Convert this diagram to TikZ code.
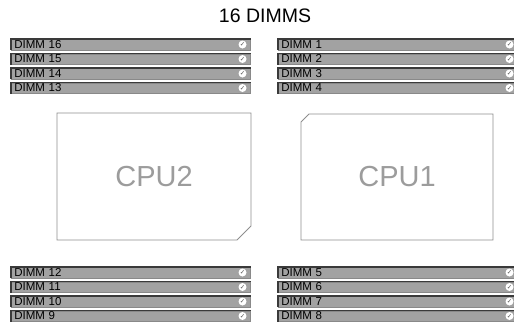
\documentclass[tikz,border=0pt]{standalone}
\usepackage{fontspec}
\setmainfont{Liberation Sans}
\newfontfamily\symfont{DejaVu Sans}
\usepackage{xcolor}
\usetikzlibrary{shapes.misc,positioning}
\definecolor{slot}{HTML}{A2A2A2}
\definecolor{slotline}{HTML}{3A3A3A}
\definecolor{chip}{HTML}{8E8E8E}
\definecolor{chiptext}{HTML}{9C9C9C}

\tikzset{
  dimm/.style={fill=slot,draw=slotline!60,line width=0.5pt,anchor=north west,
    minimum width=239pt,minimum height=10.5pt,inner ysep=0pt,inner xsep=2.8pt,
    text width=233pt,align=left,text height=8pt,text depth=0.5pt,
    font=\fontsize{11.5}{11.5}\selectfont},
  slotedge/.style={slotline,line width=1.1pt},
  tick/.style={circle,fill=white,inner sep=0pt,minimum size=8pt,
    text=gray!70!black,font=\symfont\fontsize{6.5}{6.5}\selectfont},
  cpu/.style={chamfered rectangle,draw=chip,line width=0.8pt,
    text=chiptext,font=\fontsize{29}{29}\selectfont}
}

\begin{document}
\begin{tikzpicture}[x=1pt,y=-1pt]
  \useasboundingbox (0,0) rectangle (514,325);
  \clip (0,0) rectangle (514,325);
  \node[font=\fontsize{19.5}{19.5}\selectfont] (title) at (265,16) {16 DIMMS};
  % memory slots
  \foreach \n/\x/\y in {16/11/39,15/11/53.5,14/11/68,13/11/82.5,
                        1/278/39,2/278/53.5,3/278/68,4/278/82.5,
                        12/11/267,11/11/281.5,10/11/296,9/11/310.5,
                        5/278/267,6/278/281.5,7/278/296,8/278/310.5}{
    \node[dimm] (d\n) at (\x,\y) {DIMM \n};
    \draw[slotedge] (d\n.south west) -- (d\n.north west) -- (d\n.north east);
    \node[tick] (c\n) at ([xshift=-8pt]d\n.east) {✓};}
  % processors
  \node[cpu,minimum width=194pt,minimum height=127pt,
    chamfered rectangle corners=south east,chamfered rectangle xsep=7pt,
    chamfered rectangle ysep=7pt] (cpu2) at (154,176.5) {CPU2};
  \node[cpu,minimum width=192pt,minimum height=126pt,
    chamfered rectangle corners=north west,chamfered rectangle xsep=4pt,
    chamfered rectangle ysep=4pt] (cpu1) at (397,177) {CPU1};
\end{tikzpicture}
\end{document}
